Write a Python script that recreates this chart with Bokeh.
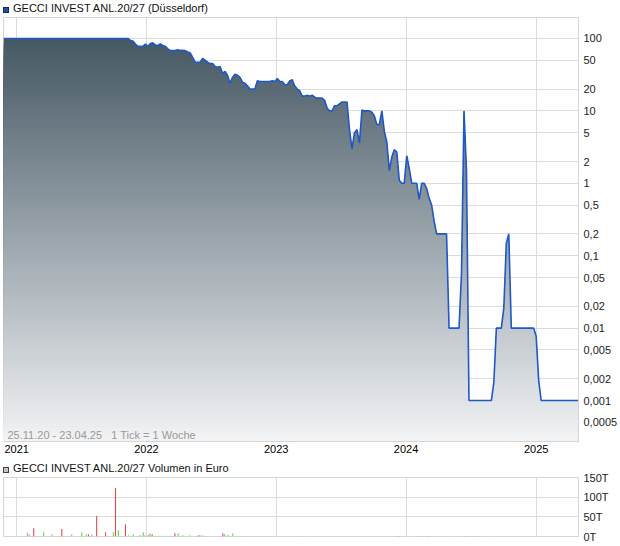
import numpy as np
import pandas as pd
from bokeh.plotting import figure
from bokeh.layouts import column
from bokeh.models import (Range1d, FixedTicker, CustomJSTickFormatter, Label,
                          ColumnDataSource, Div)
from bokeh.embed import file_html
from bokeh.resources import INLINE

# ---------------- data ----------------
START = "2020-11-25"          # weekly ticks, 1 Tick = 1 Woche
price = ([100] * 51 +
         [94, 92, 84, 78, 78, 78, 84, 78, 85, 87, 81, 80, 84, 80, 78, 72, 68, 68, 68, 70,
          68, 69, 68, 65, 63, 55, 47, 47, 47, 53, 50, 47, 45, 45, 41, 40, 41, 33, 35, 31,
          24, 29, 32, 31, 29, 25, 24, 22, 20, 20, 20, 26, 25.5, 25.5, 25.5, 25.5, 25.5, 26, 25.5, 28,
          25.5, 25.5, 23, 23, 26, 27, 22, 20, 19, 16, 16, 16.5, 16, 16.5, 15.5, 15, 15, 15, 14, 11,
          10, 10, 11.8, 11.8, 12.5, 13.3, 13.3, 13.3, 5.5, 3, 5, 5.5, 3.6, 10.3, 10, 10, 10, 9.6,
          8.5, 6.5, 6.5, 10, 5.2, 3.7, 1.5, 2.3, 2.9, 2.7, 1.1, 1.0, 1.0, 2.4, 1.6, 1.0, 1.0, 1.0,
          0.6, 1.0, 1.0, 0.85, 0.62, 0.5, 0.3, 0.2, 0.2, 0.2, 0.2, 0.2, 0.01, 0.01, 0.01, 0.01, 0.01,
          0.057, 10, 1.5] +
         [0.001] * 10 +
         [0.0018, 0.01, 0.01, 0.01, 0.019, 0.15, 0.2, 0.01] +
         [0.01] * 9 +
         [0.0077, 0.0019] +
         [0.001] * 16)

price_ticks = [0.0005, 0.001, 0.002, 0.005, 0.01, 0.02, 0.05, 0.1, 0.2, 0.5,
               1, 2, 5, 10, 20, 50, 100]
years = [2021, 2022, 2023, 2024, 2025]

vol_dates = ["2021-01-31", "2021-02-05", "2021-02-18", "2021-03-18", "2021-04-10", "2021-05-08",
             "2021-06-05", "2021-07-03", "2021-07-16", "2021-07-22", "2021-07-31", "2021-08-14",
             "2021-09-08", "2021-09-30", "2021-10-06", "2021-10-14", "2021-11-03", "2021-11-11",
             "2021-11-25", "2021-12-14", "2021-12-23", "2021-12-28",
             "2022-01-06", "2022-01-11", "2022-01-17", "2022-01-25", "2022-02-08", "2022-02-25",
             "2022-03-08", "2022-03-22", "2022-03-31", "2022-04-14", "2022-05-03", "2022-05-26",
             "2022-05-31", "2022-06-09", "2022-08-04", "2022-08-09", "2022-08-18", "2022-09-01",
             "2022-09-29", "2022-10-18", "2022-11-10", "2022-11-29",
             "2023-03-20", "2023-12-03", "2023-12-11",
             "2024-01-28", "2024-02-05", "2024-03-04", "2024-03-10", "2024-05-19", "2024-06-16",
             "2024-06-24", "2024-06-29", "2024-07-08", "2024-07-13", "2024-07-27", "2024-09-07"]
vol_values = [9, 6, 21, 11, 6, 19, 6, 11, 6, 6, 6, 52, 11, 11, 123, 16, 31, 3, 6, 3, 11, 3,
              3, 8, 6, 2, 2, 2, 2, 8, 8, 3, 3, 3, 3, 3, 8, 6, 3, 8, 1, 1, 1, 1,
              1, 1, 1,
              0.7, 1, 1, 1, 0.7, 1, 0.7, 0.7, 0.7, 0.7, 0.7, 0.7]
vol_dir = ["n", "n", "d", "u", "n", "d", "u", "u", "u", "d",
           "n", "d", "d", "u", "d", "u", "d", "u", "u", "d",
           "u", "u", "d", "u", "d", "u", "u", "u", "u", "d",
           "u", "u", "u", "u", "d", "u", "d", "u", "d", "u",
           "d", "n", "u", "u", "u", "d", "d", "n", "d", "d",
           "u", "n", "d", "n", "n", "n", "n", "n", "n"]
vol_ticks = [0, 50, 100, 150]

TITLE_MAIN = "GECCI INVEST ANL.20/27 (Düsseldorf)"
TITLE_VOL = "GECCI INVEST ANL.20/27 Volumen in Euro"
NOTE = "25.11.20 - 23.04.25 \u00a0 1 Tick = 1 Woche"

# ---------------- helpers ----------------
FONT = "Liberation Sans"
W = 620
dates = pd.date_range(START, periods=len(price), freq="7D")
t = dates.asi8 / 1e6
ly = np.log10(np.array(price, dtype=float))

YTOP = 10 ** 2.290
YBOT = 10 ** -3.566
year_ms = [pd.Timestamp(f"{y}-01-01").value / 1e6 for y in years]


def header(text, fill, line, height, pad_top):
    html = ('<div style="font-family:\'Liberation Sans\',Arial,sans-serif;font-size:11px;'
            'color:#111;white-space:nowrap;line-height:13px;padding-top:%dpx;padding-left:3px;">'
            '<span style="display:inline-block;width:6px;height:6px;background:%s;'
            'border:1px solid %s;margin-right:4px;vertical-align:-1px;"></span>%s</div>'
            % (pad_top, fill, line, text))
    return Div(text=html, width=W, height=height, margin=(0, 0, 0, 0),
               styles={"overflow": "visible"})


def style_axis(ax, standoff):
    ax.major_tick_line_color = None
    ax.minor_tick_line_color = None
    ax.major_tick_out = 0
    ax.major_tick_in = 0
    ax.minor_tick_out = 0
    ax.minor_tick_in = 0
    ax.axis_line_color = "#d6d6d6"
    ax.major_label_standoff = standoff
    ax.major_label_text_font = FONT
    ax.major_label_text_font_size = "11px"
    ax.major_label_text_color = "#222222"


p = figure(width=W, height=441, x_axis_type="datetime", y_axis_type="log",
           y_axis_location="right", x_range=Range1d(t[0], t[-1]),
           y_range=Range1d(YBOT, YTOP), output_backend="svg", toolbar_location=None,
           min_border_left=3, min_border_right=42, min_border_top=1, min_border_bottom=16)
p.background_fill_color = "white"
p.border_fill_color = "white"
p.outline_line_color = "#d6d6d6"

# gradient fill under the curve, built from stacked bands
c_top = np.array([70, 88, 100])
c_bot = np.array([242, 244, 246])
LT, LB = 2.0, np.log10(YBOT)
NB = 90
edges = np.linspace(np.log10(YBOT), ly.max(), NB + 1)


def clip_curve(level):
    xs = [t[0]]
    ys = [min(ly[0], level)]
    for i in range(len(t) - 1):
        y0, y1 = ly[i], ly[i + 1]
        if (y0 - level) * (y1 - level) < 0:
            s = (level - y0) / (y1 - y0)
            xs.append(t[i] + s * (t[i + 1] - t[i]))
            ys.append(level)
        xs.append(t[i + 1])
        ys.append(min(y1, level))
    return np.array(xs), 10 ** np.array(ys)


for j in reversed(range(NB)):
    mid = 0.5 * (edges[j] + edges[j + 1])
    f = (LT - mid) / (LT - LB)
    c = np.clip(c_top + f * (c_bot - c_top), 0, 255).astype(int)
    col = "#%02x%02x%02x" % tuple(c)
    xs, ys = clip_curve(edges[j + 1])
    p.varea(x=xs, y1=1e-5, y2=ys, fill_color=col, fill_alpha=1.0)

p.line(t, np.array(price, dtype=float), line_color="#1f58c8", line_width=1.6)

# axes
p.xaxis.ticker = FixedTicker(ticks=year_ms)
p.xaxis.formatter = CustomJSTickFormatter(code="return String(new Date(tick).getUTCFullYear());")
style_axis(p.xaxis[0], 3)
p.xaxis.major_label_text_color = "#000000"

p.yaxis.ticker = FixedTicker(ticks=price_ticks)
p.yaxis.formatter = CustomJSTickFormatter(code="return String(tick).replace('.', ',');")
style_axis(p.yaxis[0], 5)

p.xgrid.ticker = FixedTicker(ticks=year_ms)
p.ygrid.ticker = FixedTicker(ticks=price_ticks)
p.grid.grid_line_color = "#dcdcdc"
p.grid.grid_line_width = 1

p.add_layout(Label(x=t[0], y=YBOT, x_offset=4, y_offset=1, text=NOTE,
                   text_font=FONT, text_font_size="11px", text_color="#999999",
                   text_baseline="bottom"))

# ---------------- volume panel ----------------
p2 = figure(width=W, height=75, x_axis_type="datetime", y_axis_location="right",
            x_range=p.x_range, y_range=Range1d(0, 150), output_backend="svg",
            toolbar_location=None, min_border_left=3, min_border_right=42,
            min_border_top=8, min_border_bottom=8)
p2.background_fill_color = "white"
p2.border_fill_alpha = 0
p2.outline_line_color = "#d6d6d6"

cmap = {"u": "#4fe04f", "d": "#e04848", "n": "#aaaaaa"}
vsrc = ColumnDataSource(dict(x=pd.to_datetime(vol_dates).asi8 / 1e6, top=vol_values,
                             color=[cmap[d] for d in vol_dir]))
p2.vbar(x="x", top="top", bottom=0, width=3.0 * 86400000, fill_color="color",
        line_color=None, source=vsrc)

p2.xaxis.visible = False
p2.xgrid.ticker = FixedTicker(ticks=year_ms)
p2.ygrid.ticker = FixedTicker(ticks=vol_ticks)
p2.grid.grid_line_color = "#dcdcdc"
p2.yaxis.ticker = FixedTicker(ticks=vol_ticks)
p2.yaxis.formatter = CustomJSTickFormatter(code="return tick + 'T';")
style_axis(p2.yaxis[0], 5)

layout = column(header(TITLE_MAIN, "#1f4fb4", "#1a2550", 16, 2),
                p,
                header(TITLE_VOL, "#c4c4c4", "#444444", 12, 5),
                p2, spacing=0)
open("out.html", "w").write(file_html(layout, INLINE))
